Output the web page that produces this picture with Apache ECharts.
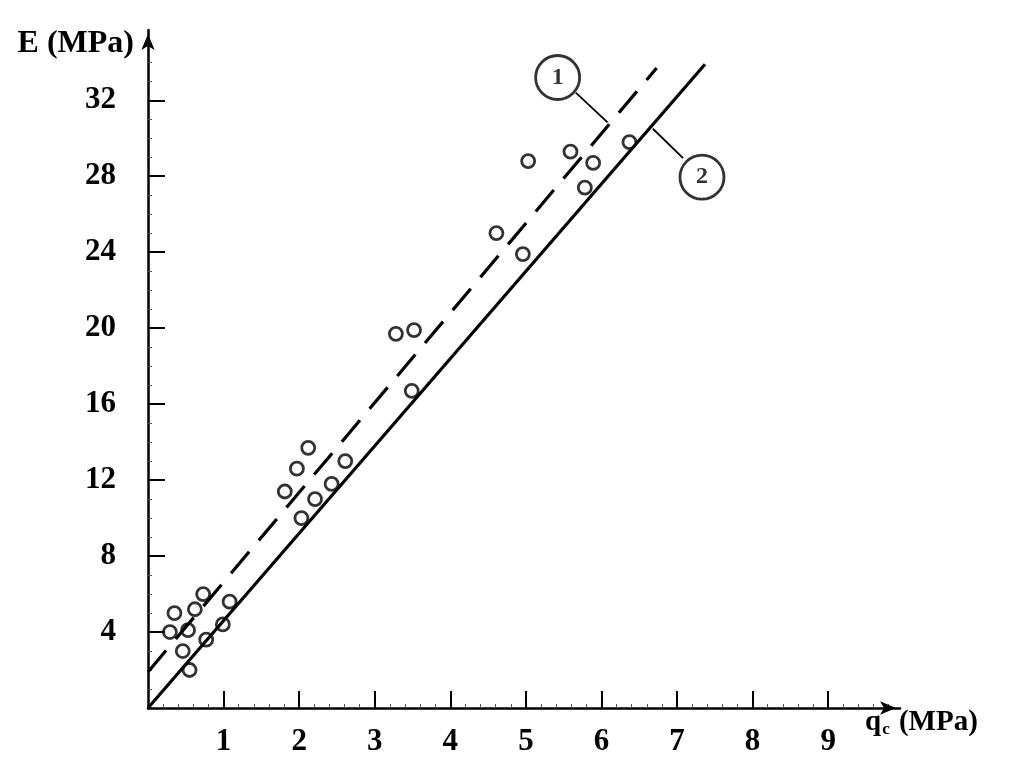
<!DOCTYPE html>
<html>
<head>
<meta charset="utf-8">
<script src="https://cdn.jsdelivr.net/npm/echarts@6/dist/echarts.min.js"></script>
<style>html,body{margin:0;padding:0;background:#fff}#c{width:1027px;height:780px}</style>
</head>
<body>
<div id="c"></div>
<script>
// Measured data points: cone resistance qc (MPa) vs modulus E (MPa)
const qcValues = [0.29,0.35,0.53,0.62,0.73,0.46,0.55,0.77,0.99,1.08,
                  2.12,1.97,1.81,2.03,2.21,2.43,2.61,
                  3.28,3.52,3.49,
                  5.03,5.59,5.89,5.78,6.37,4.61,4.96];
const eValues  = [4.0,5.0,4.1,5.2,6.0,3.0,2.0,3.6,4.4,5.6,
                  13.7,12.6,11.4,10.0,11.0,11.8,13.0,
                  19.7,19.9,16.7,
                  28.8,29.3,28.7,27.4,29.8,25.0,23.9];
// Line (1): dashed fit, Line (2): solid fit
const line1Qc = [0, 6.73];
const line1E  = [1.9, 33.7];
const line2Qc = [0, 7.37];
const line2E  = [0, 33.9];
// Circled callout labels and their leader lines
const calloutNames = ['1', '2'];
const calloutQc = [5.42, 7.33];
const calloutE  = [33.2, 27.95];
const leader1Qc = [5.66, 6.08];
const leader1E  = [32.4, 30.84];
const leader2Qc = [7.08, 6.68];
const leader2E  = [28.95, 30.5];
// Axes
const xTickValues = [1,2,3,4,5,6,7,8,9];
const yTickValues = [4,8,12,16,20,24,28,32];
const xMax = 9.95;
const yMax = 35.7;

const zip = (a, b) => a.map((v, i) => [v, b[i]]);
const serif = '"Liberation Serif", "DejaVu Serif", serif';

const chart = echarts.init(document.getElementById('c'), null, {renderer: 'canvas'});
chart.setOption({
  animation: false,
  backgroundColor: '#fff',
  grid: {left: 148, right: 127, top: 30, bottom: 72, containLabel: false, outerBoundsMode: 'none'},
  xAxis: {
    type: 'value', min: 0, max: xMax, interval: 1,
    name: '{q|q}{c|c}{q| (MPa)}',
    nameLocation: 'end', nameGap: -35,
    nameTextStyle: {
      align: 'left', verticalAlign: 'top', padding: [0, 0, 0, 0],
      rich: {
        q: {fontFamily: serif, fontSize: 29, fontWeight: 'bold', color: '#000', lineHeight: 30},
        c: {fontFamily: serif, fontSize: 17, fontWeight: 'bold', color: '#000', verticalAlign: 'bottom', lineHeight: 14, padding: [0, 2, 0, 1]}
      }
    },
    axisLine: {show: true, symbol: ['none', 'arrow'], symbolSize: [10, 16], symbolOffset: [0, -4], lineStyle: {color: '#000', width: 2.5}},
    axisTick: {show: true, inside: true, length: 17, customValues: xTickValues, lineStyle: {color: '#000', width: 2}},
    minorTick: {show: true, splitNumber: 5, length: 4, lineStyle: {color: '#555', width: 1}},
    axisLabel: {
      margin: 18, color: '#000', fontFamily: serif, fontSize: 31, fontWeight: 'bold',
      customValues: xTickValues
    },
    splitLine: {show: false}
  },
  yAxis: {
    type: 'value', min: 0, max: yMax, interval: 4,
    name: 'E (MPa)',
    nameLocation: 'end', nameGap: -14,
    nameTextStyle: {align: 'right', verticalAlign: 'middle', padding: [0, 14, 0, 0], fontFamily: serif, fontSize: 32, fontWeight: 'bold', color: '#000'},
    axisLine: {show: true, symbol: ['none', 'arrow'], symbolSize: [10, 16], symbolOffset: [0, -4], lineStyle: {color: '#000', width: 2.5}},
    axisTick: {show: true, inside: true, length: 17, customValues: yTickValues, lineStyle: {color: '#000', width: 2}},
    minorTick: {show: true, splitNumber: 4, length: 4, lineStyle: {color: '#555', width: 1}},
    axisLabel: {
      margin: 32, color: '#000', fontFamily: serif, fontSize: 31, fontWeight: 'bold',
      customValues: yTickValues
    },
    splitLine: {show: false}
  },
  series: [
    {
      type: 'line', data: zip(line1Qc, line1E), showSymbol: false, symbol: 'none',
      lineStyle: {color: '#000', width: 3.2, type: [28, 15]}, z: 2
    },
    {
      type: 'line', data: zip(line2Qc, line2E), showSymbol: false, symbol: 'none',
      lineStyle: {color: '#000', width: 3.2}, z: 2
    },
    {
      type: 'line', data: zip(leader1Qc, leader1E), showSymbol: false, symbol: 'none',
      lineStyle: {color: '#000', width: 1.8}, z: 2
    },
    {
      type: 'line', data: zip(leader2Qc, leader2E), showSymbol: false, symbol: 'none',
      lineStyle: {color: '#000', width: 1.8}, z: 2
    },
    {
      type: 'scatter', data: zip(qcValues, eValues), symbol: 'circle', symbolSize: 13,
      itemStyle: {color: 'rgba(0,0,0,0)', borderColor: '#000', borderWidth: 2.8}, z: 3
    },
    {
      type: 'scatter', symbol: 'circle', symbolSize: 44,
      data: calloutNames.map((n, i) => ({name: n, value: [calloutQc[i], calloutE[i]]})),
      itemStyle: {color: '#fff', borderColor: '#000', borderWidth: 2.8},
      label: {show: true, position: 'inside', formatter: p => p.name, color: '#000', fontFamily: serif, fontSize: 24, fontWeight: 'bold'},
      z: 4
    }
  ]
});
</script>
</body>
</html>
